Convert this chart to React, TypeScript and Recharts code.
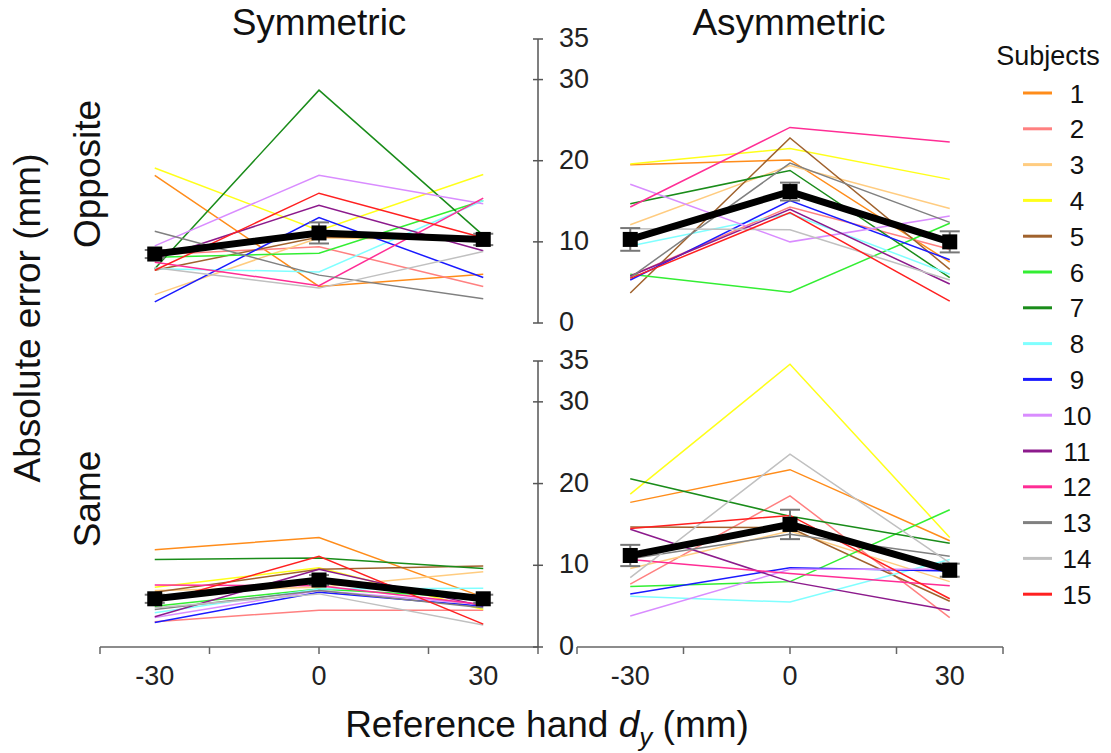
import React from "react";
import { LineChart, Line, XAxis, YAxis, ErrorBar } from "recharts";

const dyValues = [-30, 0, 30];
const subjects = ["1", "2", "3", "4", "5", "6", "7", "8", "9", "10", "11", "12", "13", "14", "15"];
const subjectColors = [
  "#ff8c1a", "#ff8080", "#ffcc80", "#ffff1a", "#a0622d",
  "#33ee33", "#1a8c1a", "#80ffff", "#1a1aff", "#d98cff",
  "#8c1a8c", "#ff2d95", "#808080", "#c0c0c0", "#ff2020",
];
const yTicks = [0, 10, 20, 30, 35];
const xTickMarks = [-40, -20, 0, 20, 40];
const xTickLabels = [-30, 0, 30];
const xTicks = [-40, -30, -20, 0, 20, 30, 40];

// one triple per subject: dy = -30, 0, 30
const symOpposite = [
  [18.2, 4.5, 6.0], [8.4, 9.4, 4.5], [3.5, 10.5, 10.2], [19.1, 11.4, 18.3], [6.5, 10.6, 10.5],
  [8.1, 8.6, 15.1], [6.7, 28.7, 10.8], [6.7, 6.3, 15.1], [2.6, 13.0, 5.6], [9.5, 18.2, 14.7],
  [7.9, 14.5, 8.9], [7.5, 4.6, 15.4], [11.3, 5.9, 3.0], [6.8, 4.3, 8.8], [6.5, 16.0, 10.5],
];
const symOppositeMean = [8.5, 11.1, 10.3];
const symOppositeErr = [0.5, 1.3, 0.7];

const asymOpposite = [
  [19.5, 20.1, 7.5], [5.8, 14.3, 9.1], [12.1, 19.4, 14.1], [19.6, 21.5, 17.7], [3.7, 22.8, 6.6],
  [6.0, 3.8, 12.3], [14.7, 18.8, 5.6], [9.5, 13.5, 6.0], [5.3, 15.1, 7.8], [17.1, 10.0, 13.2],
  [5.8, 14.0, 4.8], [14.3, 24.1, 22.3], [5.6, 19.7, 12.4], [11.6, 11.5, 5.3], [5.5, 13.6, 2.7],
];
const asymOppositeMean = [10.3, 16.2, 10.0];
const asymOppositeErr = [1.4, 1.1, 1.3];

const symSame = [
  [11.9, 13.4, 6.1], [3.1, 4.5, 4.5], [6.9, 7.3, 9.2], [7.3, 9.7, 4.6], [6.7, 9.5, 9.9],
  [5.0, 7.1, 6.0], [10.7, 10.9, 9.6], [4.2, 7.1, 7.2], [3.0, 6.7, 5.0], [3.6, 6.9, 5.2],
  [3.7, 9.5, 5.0], [7.6, 7.5, 5.2], [4.6, 6.9, 4.8], [4.8, 6.5, 2.7], [5.4, 11.1, 2.8],
];
const symSameMean = [5.9, 8.2, 5.9];
const symSameErr = [0.5, 0.6, 0.5];

const asymSame = [
  [17.7, 21.7, 13.0], [7.7, 18.5, 3.6], [9.6, 14.2, 8.0], [18.7, 34.6, 13.4], [14.7, 14.6, 5.6],
  [7.4, 8.0, 16.8], [20.6, 16.0, 12.7], [6.2, 5.5, 10.7], [6.5, 9.7, 9.3], [3.8, 9.5, 9.5],
  [14.4, 8.0, 4.5], [10.7, 9.0, 7.5], [10.8, 13.8, 11.1], [8.5, 23.6, 10.3], [14.5, 16.1, 5.9],
];
const asymSameMean = [11.2, 15.0, 9.4];
const asymSameErr = [1.3, 1.8, 0.8];

const FONT = "'Liberation Sans', Arial, Helvetica, sans-serif";
const W = 1111;
const H = 753;

function buildRows(vals: number[][], mean: number[], err: number[]) {
  return dyValues.map((dy, i) => {
    const row: Record<string, number> = { dy, mean: mean[i], err: err[i] };
    vals.forEach((v, s) => {
      row["s" + s] = v[i];
    });
    return row;
  });
}

const YTick = (props: any) => {
  const { x, y, payload } = props;
  return (
    <g>
      <line x1={x - 5} x2={x + 5} y1={y} y2={y} stroke="#555" strokeWidth={1.5} />
      <text x={x + 21} y={y + 8} fontSize={27} fill="#222" fontFamily={FONT}>
        {payload.value}
      </text>
    </g>
  );
};

const XTick = (props: any) => {
  const { x, y, payload } = props;
  const v = payload.value;
  return (
    <g>
      {xTickMarks.includes(v) && (
        <line x1={x} x2={x} y1={y} y2={y + 7} stroke="#666" strokeWidth={1.5} />
      )}
      {xTickLabels.includes(v) && (
        <text x={x} y={y + 38} fontSize={27} fill="#222" textAnchor="middle" fontFamily={FONT}>
          {v}
        </text>
      )}
    </g>
  );
};

const SquareDot = (props: any) => {
  const { cx, cy, index } = props;
  if (cx == null || cy == null) return null;
  return <rect key={"sq" + index} x={cx - 7.5} y={cy - 7.5} width={15} height={15} fill="#000" />;
};

type PanelProps = {
  vals: number[][];
  mean: number[];
  err: number[];
  left: boolean;
  bottom: boolean;
};

const Panel = ({ vals, mean, err, left, bottom }: PanelProps) => {
  const data = buildRows(vals, mean, err);
  const margin = {
    top: bottom ? 361 : 39,
    bottom: bottom ? 66 : 430,
    left: left ? 100 : 577,
    right: left ? 513 : 108,
  };
  return (
    <div style={{ position: "absolute", left: 0, top: 0 }}>
      <LineChart width={W} height={H} data={data} margin={margin}>
        <XAxis
          dataKey="dy"
          type="number"
          domain={[-40, 40]}
          ticks={xTicks}
          interval={0}
          hide={!bottom}
          height={40}
          tickSize={0}
          tickMargin={0}
          tickLine={false}
          axisLine={{ stroke: "#666", strokeWidth: 1.5 }}
          tick={<XTick />}
        />
        <YAxis
          type="number"
          domain={[0, 35]}
          ticks={yTicks}
          interval={0}
          orientation="right"
          hide={!left}
          width={60}
          tickSize={0}
          tickMargin={0}
          tickLine={false}
          axisLine={{ stroke: "#555", strokeWidth: 1.5 }}
          tick={<YTick />}
        />
        {subjects.map((s, i) => (
          <Line
            key={s}
            dataKey={"s" + i}
            type="linear"
            stroke={subjectColors[i]}
            strokeWidth={1.5}
            dot={false}
            isAnimationActive={false}
          />
        ))}
        <Line
          dataKey="mean"
          type="linear"
          stroke="#000"
          strokeWidth={7}
          dot={SquareDot}
          isAnimationActive={false}
        >
          <ErrorBar dataKey="err" direction="y" width={10} stroke="#777" strokeWidth={2} />
        </Line>
      </LineChart>
    </div>
  );
};

const App = () => {
  const legendTop = 93;
  const legendStep = 35.8;
  return (
    <div style={{ position: "absolute", left: 0, top: 0, width: W, height: H, background: "#fff" }}>
      <Panel vals={symOpposite} mean={symOppositeMean} err={symOppositeErr} left bottom={false} />
      <Panel vals={asymOpposite} mean={asymOppositeMean} err={asymOppositeErr} left={false} bottom={false} />
      <Panel vals={symSame} mean={symSameMean} err={symSameErr} left bottom />
      <Panel vals={asymSame} mean={asymSameMean} err={asymSameErr} left={false} bottom />
      <svg width={W} height={H} style={{ position: "absolute", left: 0, top: 0, pointerEvents: "none" }}>
        <g fontFamily={FONT} fill="#111">
          <text x={319} y={35} fontSize={37} textAnchor="middle">Symmetric</text>
          <text x={789} y={35} fontSize={37} textAnchor="middle">Asymmetric</text>
          <text x={100} y={174} fontSize={37} textAnchor="middle" transform="rotate(-90 100 174)">Opposite</text>
          <text x={100} y={499} fontSize={37} textAnchor="middle" transform="rotate(-90 100 499)">Same</text>
          <text x={40} y={318} fontSize={37} textAnchor="middle" transform="rotate(-90 40 318)">
            Absolute error (mm)
          </text>
          <text x={547} y={737} fontSize={37} textAnchor="middle">
            Reference hand <tspan fontStyle="italic">d</tspan>
            <tspan fontSize={26} fontStyle="italic" dy={9}>y</tspan>
            <tspan dy={-9}> (mm)</tspan>
          </text>
          <text x={1048} y={65} fontSize={27} textAnchor="middle">Subjects</text>
          {subjects.map((s, i) => {
            const y = legendTop + i * legendStep;
            return (
              <g key={s}>
                <line x1={1023} x2={1052} y1={y} y2={y} stroke={subjectColors[i]} strokeWidth={3} />
                <text x={1077} y={y + 9.5} fontSize={26} textAnchor="middle">{s}</text>
              </g>
            );
          })}
        </g>
      </svg>
    </div>
  );
};

export default App;
